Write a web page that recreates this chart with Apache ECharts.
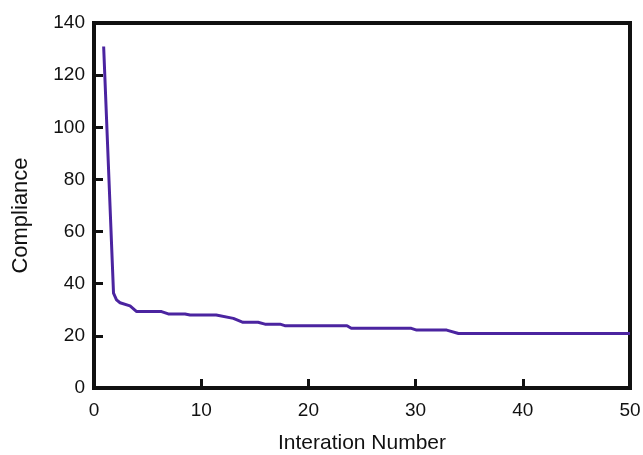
<!DOCTYPE html>
<html>
<head>
<meta charset="utf-8">
<script src="https://cdn.jsdelivr.net/npm/echarts@6/dist/echarts.min.js"></script>
<style>html,body{margin:0;padding:0;background:#fff;}#c{width:643px;height:455px;}</style>
</head>
<body>
<div id="c"></div>
<script>
// Iteration positions and compliance values
const iterations = [0.9, 1.82, 2.1, 2.43, 3.36, 3.98, 6.3, 6.93, 8.49, 8.96, 11.4, 13.0, 13.9, 15.3, 15.95, 17.35, 17.8, 23.6, 24.0, 29.6, 30.1, 32.9, 34.0, 50];
const compliance = [131.0, 36.4, 33.8, 32.7, 31.5, 29.3, 29.3, 28.4, 28.4, 28.0, 28.0, 26.7, 25.2, 25.2, 24.5, 24.5, 23.9, 23.9, 22.9, 22.9, 22.2, 22.2, 20.9, 20.9];
const xTicks = [0, 10, 20, 30, 40, 50];
const yTicks = [0, 20, 40, 60, 80, 100, 120, 140];

const chart = echarts.init(document.getElementById('c'));
const font = 'Liberation Sans, Arial, sans-serif';
chart.setOption({
  animation: false,
  grid: { left: 94, right: 13, top: 23, bottom: 67, outerBoundsMode: 'none', containLabel: false, show: true, borderColor: '#111', borderWidth: 4, backgroundColor: 'transparent' },
  xAxis: {
    type: 'value', min: xTicks[0], max: xTicks[xTicks.length - 1], interval: 10,
    name: 'Interation Number', nameLocation: 'middle', nameGap: 45,
    nameTextStyle: { fontFamily: font, fontSize: 21, color: '#111' },
    axisLine: { show: true, lineStyle: { color: '#111', width: 4 } },
    axisTick: { show: true, inside: true, length: 9, lineStyle: { color: '#111', width: 3 } },
    axisLabel: { fontFamily: font, fontSize: 19, color: '#111', margin: 13 },
    splitLine: { show: false }
  },
  yAxis: {
    type: 'value', min: yTicks[0], max: yTicks[yTicks.length - 1], interval: 20,
    name: 'Compliance', nameLocation: 'middle', nameGap: 62,
    nameTextStyle: { fontFamily: font, fontSize: 22, color: '#111', padding: [0, 20, 0, 0] },
    axisLine: { show: true, lineStyle: { color: '#111', width: 4 } },
    axisTick: { show: true, inside: true, length: 9, lineStyle: { color: '#111', width: 3 } },
    axisLabel: { fontFamily: font, fontSize: 19, color: '#111', margin: 9 },
    splitLine: { show: false }
  },
  series: [{
    type: 'line',
    data: iterations.map((x, i) => [x, compliance[i]]),
    showSymbol: false,
    lineStyle: { color: '#4b24a0', width: 3 },
    z: 1
  }]
});
</script>
</body>
</html>
